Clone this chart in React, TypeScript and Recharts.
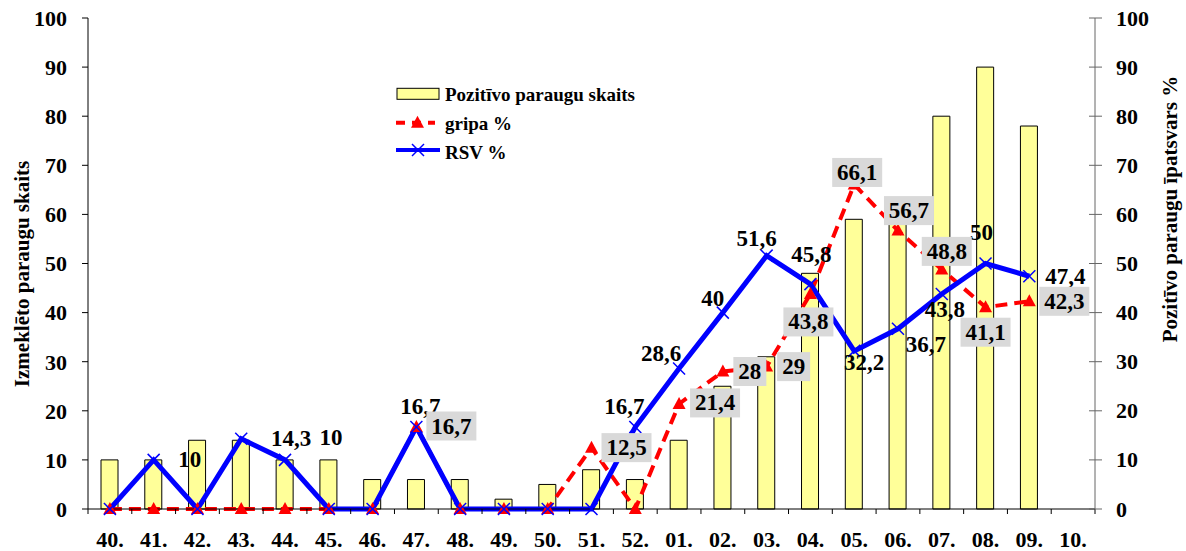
import React from "react";
import {
  ComposedChart,
  Bar,
  Line,
  XAxis,
  YAxis,
  Legend,
  LabelList,
} from "recharts";

const FONT = '"Liberation Serif", "Times New Roman", serif';

const weeks = [
  "40.", "41.", "42.", "43.", "44.", "45.", "46.", "47.", "48.", "49.", "50.", "51.",
  "52.", "01.", "02.", "03.", "04.", "05.", "06.", "07.", "08.", "09.", "10.",
];
const positiveSamples = [
  10, 10, 14, 14, 10, 10, 6, 6, 6, 2, 5, 8, 6, 14, 25, 31, 48, 59, 58, 80, 90, 78, null,
];
const fluShare = [
  0, 0, 0, 0, 0, 0, 0, 16.7, 0, 0, 0, 12.5, 0, 21.4, 28, 29, 43.8, 66.1, 56.7, 48.8, 41.1,
  42.3, null,
];
const rsvShare = [
  0, 10, 0, 14.3, 10, 0, 0, 16.7, 0, 0, 0, 0, 16.7, 28.6, 40, 51.6, 45.8, 32.2, 36.7, 43.8,
  50, 47.4, null,
];
const axisTicks = [0, 10, 20, 30, 40, 50, 60, 70, 80, 90, 100];

const chartData = weeks.map((week, i) => ({
  week,
  samples: positiveSamples[i],
  flu: fluShare[i],
  rsv: rsvShare[i],
}));

// where each value label sits relative to its point (dx, dy), by week index
const rsvLabelShift: Record<number, [number, number]> = {
  1: [36, 0],
  3: [50, 0],
  4: [46, -22],
  7: [4, -21],
  12: [-11, -21],
  13: [-18, -15],
  14: [-10, -14],
  15: [-10, -17],
  16: [1, -30],
  17: [10, 12],
  18: [28, 16],
  19: [3, 16],
  20: [-4, -31],
  21: [36, 0],
};
const fluLabelShift: Record<number, [number, number]> = {
  7: [35, -1],
  11: [35, 0],
  13: [36, -1],
  14: [27, 0],
  15: [27, 0],
  16: [-2, 28],
  17: [3, -12],
  18: [11, -20],
  19: [5, -18],
  20: [0, 25],
  21: [35, 0],
};

const fmt = (v: number) => String(v).replace(".", ",");

const textStyle = {
  fontFamily: FONT,
  fontWeight: "bold" as const,
  fill: "#000",
};

const trianglePath = (cx: number, cy: number) =>
  `M${cx},${cy - 7}L${cx + 6.5},${cy + 5}L${cx - 6.5},${cy + 5}Z`;

const TriangleDot = (props: any) => {
  const { cx, cy, index } = props;
  if (cx == null || cy == null) return <g key={`t${index}`} />;
  return <path key={`t${index}`} d={trianglePath(cx, cy)} fill="#FF0000" />;
};

const CrossDot = (props: any) => {
  const { cx, cy, index } = props;
  if (cx == null || cy == null) return <g key={`x${index}`} />;
  return (
    <g key={`x${index}`} stroke="#0000FF" strokeWidth={1.5}>
      <line x1={cx - 6} y1={cy - 6} x2={cx + 6} y2={cy + 6} />
      <line x1={cx - 6} y1={cy + 6} x2={cx + 6} y2={cy - 6} />
    </g>
  );
};

const pointOf = (props: any) => ({
  x: props.x ?? props.viewBox?.x,
  y: props.y ?? props.viewBox?.y,
});

const RsvLabel = (props: any) => {
  const { value, index } = props;
  if (value == null || value === 0) return null;
  const { x, y } = pointOf(props);
  const [dx, dy] = rsvLabelShift[index] ?? [0, -20];
  return (
    <text
      x={x + dx}
      y={y + dy}
      textAnchor="middle"
      dominantBaseline="central"
      fontSize={23}
      {...textStyle}
    >
      {fmt(value)}
    </text>
  );
};

const FluLabel = (props: any) => {
  const { value, index } = props;
  if (value == null || value === 0) return null;
  const { x, y } = pointOf(props);
  const [dx, dy] = fluLabelShift[index] ?? [30, 0];
  const text = fmt(value);
  const w = text.length * 8.5 + 16;
  const cx = x + dx;
  const cy = y + dy;
  return (
    <g>
      <rect x={cx - w / 2} y={cy - 14.5} width={w} height={29} fill="#D9D9D9" />
      <text
        x={cx}
        y={cy}
        textAnchor="middle"
        dominantBaseline="central"
        fontSize={23}
        {...textStyle}
      >
        {text}
      </text>
    </g>
  );
};

// category labels with Excel-style ticks between the weeks
const WeekTick = (props: any) => {
  const { x, y, payload, index } = props;
  const half = payload?.offset || 21.9;
  const last = index === weeks.length - 1;
  return (
    <g>
      <line x1={x - half} x2={x - half} y1={y} y2={y + 5} stroke="#000" />
      {last && <line x1={x + half} x2={x + half} y1={y} y2={y + 5} stroke="#000" />}
      <text x={x} y={y + 38} textAnchor="middle" fontSize={22} {...textStyle}>
        {payload.value}
      </text>
    </g>
  );
};

const PctTick = (props: any) => {
  const { x, y, payload } = props;
  return (
    <g>
      <line x1={x - 6} x2={x + 7} y1={y} y2={y} stroke="#666" />
      <text x={x + 21} y={y} dominantBaseline="central" fontSize={22} {...textStyle}>
        {payload.value}
      </text>
    </g>
  );
};

const LeftTitle = (props: any) => {
  const vb = props.viewBox ?? { x: 0, y: 18 };
  const cx = vb.x + 21.5;
  const cy = vb.y + 256;
  return (
    <text
      x={cx}
      y={cy}
      transform={`rotate(-90 ${cx} ${cy})`}
      textAnchor="middle"
      dominantBaseline="central"
      fontSize={21}
      {...textStyle}
    >
      Izmeklēto paraugu skaits
    </text>
  );
};

const RightTitle = (props: any) => {
  const vb = props.viewBox ?? { x: 1095, y: 18 };
  const cx = vb.x + 75;
  const cy = vb.y + 191;
  return (
    <text
      x={cx}
      y={cy}
      transform={`rotate(-90 ${cx} ${cy})`}
      textAnchor="middle"
      dominantBaseline="central"
      fontSize={21}
      {...textStyle}
    >
      Pozitīvo paraugu īpatsvars %
    </text>
  );
};

const ChartLegend = () => (
  <svg width={250} height={90} style={{ display: "block" }}>
    <rect x={2} y={8.3} width={42} height={11} fill="#FFFF99" stroke="#000" />
    <text x={50} y={20.7} fontSize={19} {...textStyle}>
      Pozitīvo paraugu skaits
    </text>
    <line
      x1={1}
      x2={40}
      y1={42.7}
      y2={42.7}
      stroke="#FF0000"
      strokeWidth={4}
      strokeDasharray="9 7"
    />
    <path d={trianglePath(22.5, 42.7)} fill="#FF0000" />
    <text x={50} y={50} fontSize={19} {...textStyle}>
      gripa %
    </text>
    <line x1={1} x2={45} y1={70} y2={70} stroke="#0000FF" strokeWidth={4} />
    <g stroke="#0000FF" strokeWidth={1.5}>
      <line x1={17} y1={64} x2={29} y2={76} />
      <line x1={17} y1={76} x2={29} y2={64} />
    </g>
    <text x={50} y={79.3} fontSize={19} {...textStyle}>
      RSV %
    </text>
  </svg>
);

export default function App() {
  return (
    <div style={{ position: "absolute", left: 0, top: 0, background: "#fff" }}>
      <ComposedChart
        width={1186}
        height={551}
        data={chartData}
        margin={{ top: 18, right: 0, bottom: 0, left: 0 }}
      >
        <XAxis
          dataKey="week"
          interval={0}
          height={42}
          tickSize={0}
          tickMargin={0}
          tickLine={false}
          axisLine={{ stroke: "#000" }}
          tick={<WeekTick />}
        />
        <YAxis
          yAxisId="count"
          width={88}
          domain={[0, 100]}
          ticks={axisTicks}
          interval={0}
          tickSize={6}
          tickMargin={15}
          axisLine={{ stroke: "#000" }}
          tickLine={{ stroke: "#000" }}
          tick={{ fontSize: 22, fontFamily: FONT, fontWeight: "bold", fill: "#000" }}
          label={{ content: <LeftTitle /> }}
        />
        <YAxis
          yAxisId="pct"
          orientation="right"
          width={91}
          domain={[0, 100]}
          ticks={axisTicks}
          interval={0}
          tickSize={0}
          tickMargin={0}
          tickLine={false}
          axisLine={{ stroke: "#666" }}
          tick={<PctTick />}
          label={{ content: <RightTitle /> }}
        />
        <Legend
          layout="vertical"
          align="center"
          verticalAlign="middle"
          content={<ChartLegend />}
          wrapperStyle={{ left: 395, top: 80, width: 250, height: 90 }}
        />
        <Bar
          yAxisId="count"
          dataKey="samples"
          barSize={17}
          fill="#FFFF99"
          stroke="#000"
          strokeWidth={1}
          isAnimationActive={false}
        />
        <Line
          yAxisId="pct"
          dataKey="flu"
          stroke="#FF0000"
          strokeWidth={4}
          strokeDasharray="12 7"
          dot={<TriangleDot />}
          activeDot={false}
          isAnimationActive={false}
        />
        <Line
          yAxisId="pct"
          dataKey="rsv"
          stroke="#0000FF"
          strokeWidth={5}
          dot={<CrossDot />}
          activeDot={false}
          isAnimationActive={false}
        >
          <LabelList dataKey="rsv" content={(p: any) => <RsvLabel {...p} />} />
        </Line>
        {/* boxed flu labels drawn last so they sit over both lines */}
        <Line
          yAxisId="pct"
          dataKey="flu"
          stroke="none"
          dot={false}
          activeDot={false}
          legendType="none"
          isAnimationActive={false}
        >
          <LabelList dataKey="flu" content={(p: any) => <FluLabel {...p} />} />
        </Line>
      </ComposedChart>
    </div>
  );
}
